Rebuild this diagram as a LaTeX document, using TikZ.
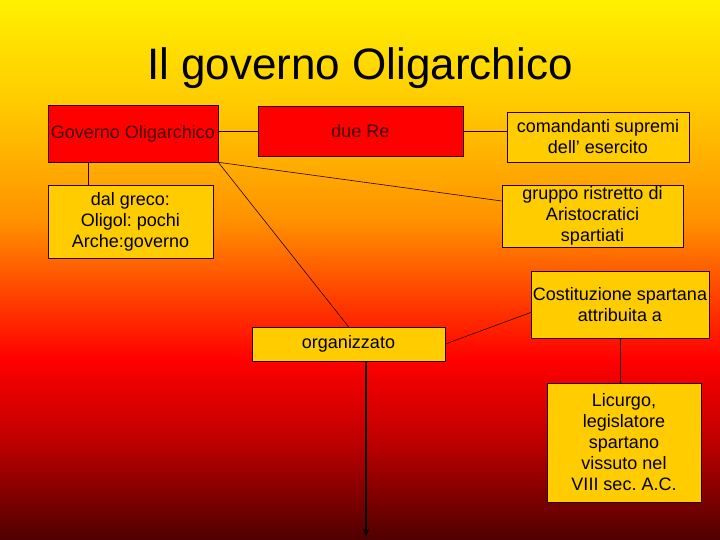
\documentclass[tikz,border=0pt]{standalone}
\usepackage{fontspec}
\setmainfont{Liberation Sans}
\frenchspacing
\usepackage{tikz}
\usetikzlibrary{positioning,calc}
\usetikzlibrary{arrows.meta}
\definecolor{giallo}{RGB}{255,204,0}
\definecolor{rosso}{RGB}{255,0,0}
\definecolor{scuro}{RGB}{70,0,0}
\pgfdeclareverticalshading{sfondo}{100bp}{rgb(0bp)=(0.31,0,0); rgb(25bp)=(0.31,0,0); rgb(34.26bp)=(0.75,0,0); rgb(41.67bp)=(1,0,0); rgb(47.22bp)=(1,0.24,0); rgb(54.63bp)=(1,0.57,0); rgb(65.74bp)=(1,0.8,0); rgb(75bp)=(1,0.94,0); rgb(100bp)=(1,0.94,0)}

\begin{document}
\begin{tikzpicture}[x=1pt,y=-1pt,
	box/.style={draw=black!85!red, line width=0.6pt, inner sep=0pt, align=center, font=\fontsize{18}{21}\selectfont},
	redbox/.style={box, fill=rosso, text=scuro},
	yellowbox/.style={box, fill=giallo, text=black},
	link/.style={draw=black!85!red, line width=0.6pt}]
	\useasboundingbox (0,0) rectangle (720,540);
	\shade[shading=sfondo] (0,0) rectangle (720,540);
	\node[font=\fontsize{44}{50}\selectfont] (titolo) at (360,68) {Il governo Oligarchico};
	% prima riga
	\node[redbox, minimum width=170, minimum height=57] (gov) at (133,133.5) {Governo Oligarchico};
	\node[redbox, minimum width=205, minimum height=50] (duere) at (360.5,131) {due Re};
	\node[yellowbox, minimum width=182, minimum height=50] (comand) at (598,137) {comandanti supremi\\dell’ esercito};
	% seconda riga
	\node[yellowbox, minimum width=165, minimum height=73] (greco) at (130.5,221.5) {dal greco:\\Oligol: pochi\\Arche:governo};
	\node[yellowbox, minimum width=181, minimum height=62] (gruppo) at (592.5,216) {gruppo ristretto di\\Aristocratici\\spartiati};
	\node[yellowbox, minimum width=178, minimum height=67] (costit) at (620,304.5) {Costituzione spartana\\attribuita a};
	\node[yellowbox, minimum width=193, minimum height=34] (organ) at (348.5,344) {organizzato};
	\node[yellowbox, minimum width=154, minimum height=119] (licurgo) at (624,442.5) {Licurgo,\\legislatore\\spartano\\vissuto nel\\VIII sec. A.C.};
	\coordinate (fine) at (366,537);
	% collegamenti
	\draw[link] (duere.west) -- (duere.west -| gov.east);
	\draw[link] (duere.east) -- (duere.east -| comand.west);
	\draw[link] ([xshift=-45]gov.south) -- ([xshift=-45]gov.south |- greco.north);
	\draw[link] (gov.south east) -- ([yshift=15]gruppo.west);
	\draw[link] (gov.south east) -- (organ.north);
	\draw[link] ([yshift=-8]costit.west) -- (organ.east);
	\draw[link] (costit.south) -- (costit.south |- licurgo.north);
	\draw[line width=1.3pt, -{Stealth[length=8pt,width=6pt]}] ([xshift=17.5]organ.south) -- (fine);
\end{tikzpicture}
\end{document}
